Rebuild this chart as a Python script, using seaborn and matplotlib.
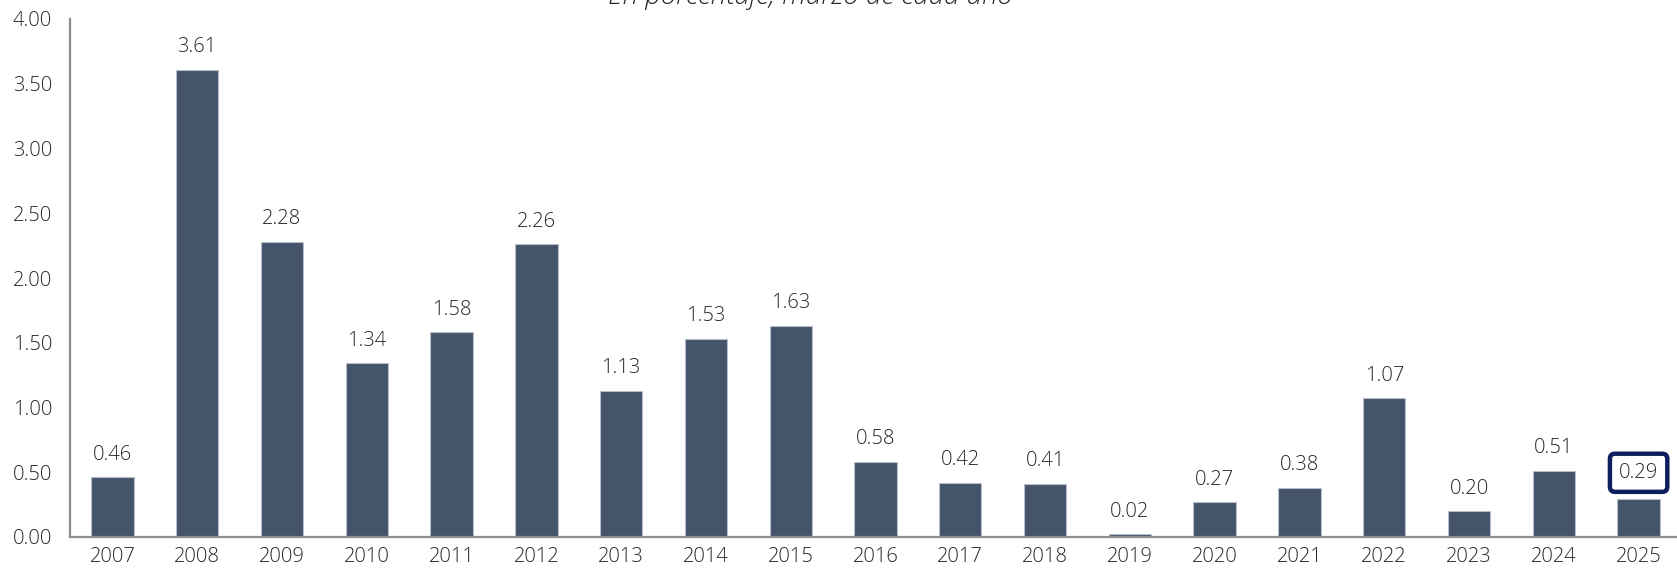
import numpy as np
import pandas as pd
import matplotlib
matplotlib.use("Agg")
import matplotlib.pyplot as plt
from matplotlib.ticker import FixedLocator
import seaborn as sns

years = ["2007", "2008", "2009", "2010", "2011", "2012", "2013", "2014", "2015", "2016",
         "2017", "2018", "2019", "2020", "2021", "2022", "2023", "2024", "2025"]
values = [0.46, 3.61, 2.28, 1.34, 1.58, 2.26, 1.13, 1.53, 1.63, 0.58,
          0.42, 0.41, 0.02, 0.27, 0.38, 1.07, 0.20, 0.51, 0.29]
yticks = [0.0, 0.5, 1.0, 1.5, 2.0, 2.5, 3.0, 3.5, 4.0]
subtitle = "En porcentaje, marzo de cada año"
highlight = "2025"

bar_color = "#44546a"
text_color = "#262626"
axis_color = "#8c8c8c"
box_color = "#0c1f5e"

sns.set_style("white")
plt.rcParams["font.family"] = ["Open Sans", "DejaVu Sans"]
plt.rcParams["font.weight"] = "light"

df = pd.DataFrame({"year": years, "value": values})

fig = plt.figure(figsize=(16.77, 5.69), dpi=100)
ax = fig.add_axes([70 / 1677, 32 / 569, 1611 / 1677, 518 / 569])

sns.barplot(data=df, x="year", y="value", color=bar_color, width=0.5,
            saturation=1, edgecolor="#b8bec8", linewidth=0.8, ax=ax, zorder=2)

ax.set_ylim(0, 4.0)
ax.set_xlim(-0.5, len(years) - 0.5)
ax.set_yticks(yticks)
ax.set_yticklabels([f"{t:.2f}" for t in yticks])
ax.set_xlabel("")
ax.set_ylabel("")

for s in ["top", "right"]:
    ax.spines[s].set_visible(False)
for s in ["left", "bottom"]:
    ax.spines[s].set_color(axis_color)
    ax.spines[s].set_linewidth(1.6)
    ax.spines[s].set_zorder(3)

ax.tick_params(axis="y", direction="out", length=4, width=1.4, color=axis_color,
               labelsize=14.5, labelcolor=text_color, pad=9)
ax.tick_params(axis="x", which="major", direction="in", length=3, width=1.2,
               color=axis_color, labelsize=14.5, labelcolor=text_color, pad=7)
ax.xaxis.set_minor_locator(FixedLocator(np.arange(-0.5, len(years), 1.0)[1:]))
ax.tick_params(axis="x", which="minor", direction="in", length=5, width=1.4,
               color=axis_color)
for t in ax.xaxis.get_major_ticks() + ax.xaxis.get_minor_ticks():
    t.tick1line.set_zorder(4)

for i, (yr, v) in enumerate(zip(years, values)):
    if yr == highlight:
        ax.annotate(f"{v:.2f}", xy=(i, v), xytext=(0, 12), textcoords="offset points",
                    ha="center", va="bottom", fontsize=14.5, color=text_color,
                    bbox=dict(boxstyle="round,pad=0.45,rounding_size=0.25", fc="white",
                              ec=box_color, lw=3.2), annotation_clip=False)
    else:
        ax.annotate(f"{v:.2f}", xy=(i, v), xytext=(0, 9), textcoords="offset points",
                    ha="center", va="bottom", fontsize=14.5, color=text_color)

fig.text(810 / 1677, 1 - 4 / 569, subtitle, ha="center", va="baseline",
         fontsize=20, style="italic", color=text_color)

fig.savefig("out.png", dpi=100)
